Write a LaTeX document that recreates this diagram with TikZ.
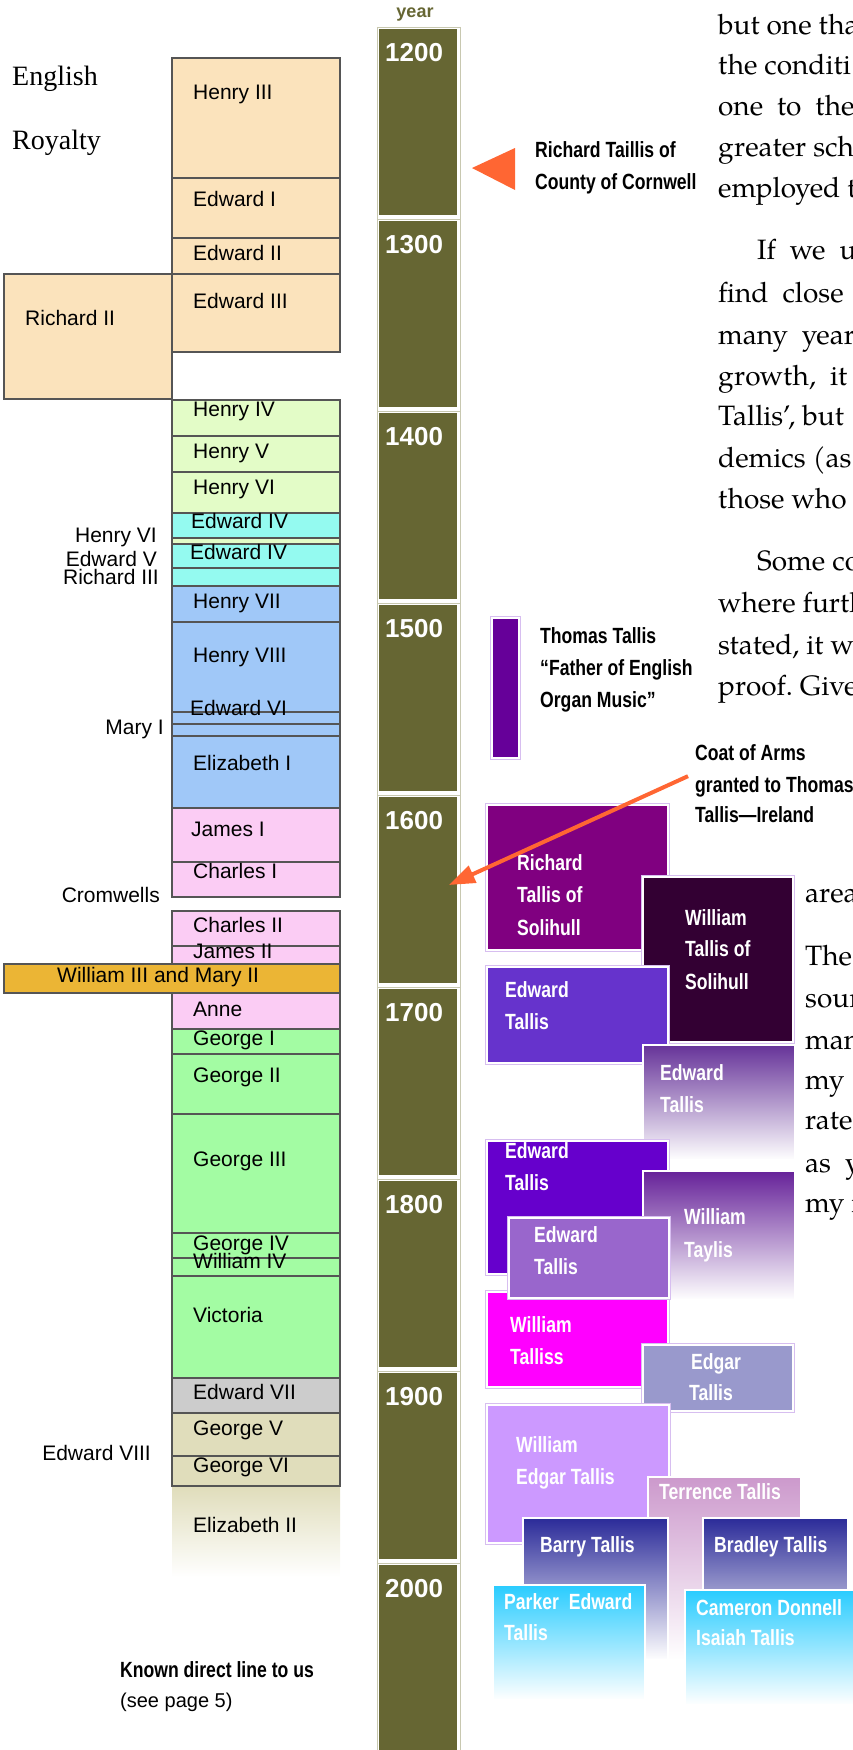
\documentclass[tikz,border=0pt]{standalone}
\usepackage{fontspec}
\usepackage{xcolor}
\usepackage{tikz}
\usetikzlibrary{arrows.meta,positioning,calc}

\setmainfont{Liberation Serif}
\newfontfamily\arialfam{Liberation Sans}
\newfontfamily\condfam[FakeStretch=0.8]{Liberation Sans}
\newfontfamily\bookfam{texgyrepagella-regular.otf}

\newcommand\royalfont{\arialfam\fontsize{21}{24}\selectfont}
\newcommand\yearfont{\arialfam\bfseries\fontsize{26}{30}\selectfont}
\newcommand\yearhead{\arialfam\bfseries\fontsize{18}{20}\selectfont}
\newcommand\kinfont{\condfam\bfseries\fontsize{22}{26}\selectfont}
\newcommand\pagefont{\arialfam\fontsize{20}{24}\selectfont}
\newcommand\bookfont{\bookfam\fontsize{28}{40}\selectfont}
\newcommand\titlefont{\fontsize{28}{32}\selectfont}

\definecolor{yearolive}{RGB}{102,102,51}
\definecolor{yearedge}{RGB}{200,200,176}
\definecolor{reignline}{RGB}{85,85,85}
\definecolor{plantagenet}{RGB}{251,227,188}
\definecolor{lancaster}{RGB}{227,252,199}
\definecolor{york}{RGB}{148,250,240}
\definecolor{tudor}{RGB}{160,200,248}
\definecolor{stuart}{RGB}{251,204,244}
\definecolor{orangewm}{RGB}{235,181,53}
\definecolor{hanover}{RGB}{163,252,163}
\definecolor{saxe}{RGB}{204,204,204}
\definecolor{windsor}{RGB}{224,221,187}
\definecolor{pointer}{RGB}{255,102,51}
\definecolor{kinedge}{RGB}{215,190,240}
\definecolor{thomascol}{RGB}{102,0,153}
\definecolor{solihullr}{RGB}{128,0,128}
\definecolor{solihullw}{RGB}{51,0,51}
\definecolor{edwarda}{RGB}{102,51,204}
\definecolor{edwardb}{RGB}{102,51,153}
\definecolor{edwardc}{RGB}{102,0,204}
\definecolor{taylis}{RGB}{102,34,153}
\definecolor{edwardd}{RGB}{153,102,204}
\definecolor{talliss}{RGB}{255,0,255}
\definecolor{edgarcol}{RGB}{153,153,204}
\definecolor{wedgar}{RGB}{204,153,255}
\definecolor{terrence}{RGB}{204,153,204}
\definecolor{navy}{RGB}{43,43,153}
\definecolor{skyc}{RGB}{41,204,255}

\tikzset{
    reign/.style={draw=reignline, line width=1.2pt},
    rname/.style={anchor=mid west, font=\royalfont, inner sep=0pt},
    rside/.style={anchor=mid east, font=\royalfont, inner sep=0pt},
    yearlbl/.style={anchor=mid west, font=\yearfont, text=white, inner sep=0pt},
    kinbox/.style={fill=#1, draw=white, line width=1.5pt, preaction={draw=kinedge, line width=3.5pt}},
    fadebox/.style={top color=#1, bottom color=white, draw=white, line width=1.5pt},
    kname/.style={anchor=mid west, font=\kinfont, text=white, inner sep=0pt},
    note/.style={anchor=mid west, font=\kinfont, inner sep=0pt},
    book/.style={anchor=mid west, font=\bookfont, inner sep=0pt},
    title/.style={anchor=mid west, font=\titlefont, inner sep=0pt}
}

\begin{document}
\begin{tikzpicture}[x=1pt,y=-1pt]
    \useasboundingbox (0,0) rectangle (852,1750);

    % year column
    \draw[yearedge, line width=0.8pt] (377,27) -- (377,1760) (460,27) -- (460,1760);
    \foreach \yr [count=\i from 0] in {1200,1300,...,2000} {
        \pgfmathsetmacro\ytop{29+192*\i}
        \draw[yearedge, line width=0.8pt] (377,{\ytop-2}) -- (460,{\ytop-2});
        \fill[yearolive] (379,\ytop) rectangle (457,{\ytop+186});
        \node[yearlbl] (y\yr) at (385,{\ytop+30}) {\yr};
    }
    \node[font=\yearhead, text=yearolive, inner sep=0pt] (yr) at (415,15) {year};

    % royalty
    \node[title] (eng) at (12,83) {English};
    \node[title] (roy) at (12,147) {Royalty};
    \draw[reign, fill=plantagenet] (172,58) rectangle (340,178); \node[rname] (h3) at (193,97) {Henry III};
    \draw[reign, fill=plantagenet] (172,178) rectangle (340,238); \node[rname] (e1) at (193,204) {Edward I};
    \draw[reign, fill=plantagenet] (172,238) rectangle (340,274); \node[rname] (e2) at (193,258) {Edward II};
    \draw[reign, fill=plantagenet] (172,274) rectangle (340,352); \node[rname] (e3) at (193,306) {Edward III};
    \draw[reign, fill=plantagenet] (4,274) rectangle (172,399); \node[rname] (r2) at (25,323) {Richard II};
    \draw[reign, fill=lancaster] (172,400) rectangle (340,436); \node[rname] (h4) at (193,414) {Henry IV};
    \draw[reign, fill=lancaster] (172,436) rectangle (340,472); \node[rname] (h5) at (193,456) {Henry V};
    \draw[reign, fill=lancaster] (172,472) rectangle (340,513); \node[rname] (h6) at (193,492) {Henry VI};
    \draw[reign, fill=york] (172,513) rectangle (340,538); \node[rname] (e4) at (191,526) {Edward IV};
    \draw[reign, fill=lancaster] (172,538) rectangle (340,544);
    \draw[reign, fill=york] (172,544) rectangle (340,568); \node[rname] (e4b) at (190,557) {Edward IV};
    \draw[reign, fill=york] (172,568) rectangle (340,586);
    \draw[reign, fill=tudor] (172,586) rectangle (340,622); \node[rname] (h7) at (193,606) {Henry VII};
    \draw[reign, fill=tudor] (172,622) rectangle (340,712); \node[rname] (h8) at (193,660) {Henry VIII};
    \draw[reign, fill=tudor] (172,712) rectangle (340,724); \node[rname] (e6) at (190,713) {Edward VI};
    \draw[reign, fill=tudor] (172,724) rectangle (340,736);
    \draw[reign, fill=tudor] (172,736) rectangle (340,808); \node[rname] (el1) at (193,768) {Elizabeth I};
    \draw[reign, fill=stuart] (172,808) rectangle (340,862); \node[rname] (j1) at (191,834) {James I};
    \draw[reign, fill=stuart] (172,862) rectangle (340,897); \node[rname] (c1) at (193,876) {Charles I};
    \draw[reign, fill=stuart] (172,911) rectangle (340,946); \node[rname] (c2) at (193,930) {Charles II};
    \draw[reign, fill=stuart] (172,946) rectangle (340,964); \node[rname] (j2) at (193,956) {James II};
    \draw[reign, fill=orangewm] (4,964) rectangle (340,993); \node[rname] (wm) at (57,980) {William III and Mary II};
    \draw[reign, fill=stuart] (172,993) rectangle (340,1029); \node[rname] (an) at (193,1014) {Anne};
    \draw[reign, fill=hanover] (172,1029) rectangle (340,1054); \node[rname] (g1) at (193,1043) {George I};
    \draw[reign, fill=hanover] (172,1054) rectangle (340,1114); \node[rname] (g2) at (193,1080) {George II};
    \draw[reign, fill=hanover] (172,1114) rectangle (340,1233); \node[rname] (g3) at (193,1164) {George III};
    \draw[reign, fill=hanover] (172,1233) rectangle (340,1258); \node[rname] (g4) at (193,1248) {George IV};
    \draw[reign, fill=hanover] (172,1258) rectangle (340,1276); \node[rname] (w4) at (193,1266) {William IV};
    \draw[reign, fill=hanover] (172,1276) rectangle (340,1378); \node[rname] (vi) at (193,1320) {Victoria};
    \draw[reign, fill=saxe] (172,1378) rectangle (340,1413); \node[rname] (e7) at (193,1397) {Edward VII};
    \draw[reign, fill=windsor] (172,1413) rectangle (340,1456); \node[rname] (g5) at (193,1433) {George V};
    \draw[reign, fill=windsor] (172,1456) rectangle (340,1486); \node[rname] (g6) at (193,1470) {George VI};
    \shade[top color=windsor, bottom color=white] (172,1487) rectangle (340,1577); \node[rname] (el2) at (193,1530) {Elizabeth II};

    % short reigns named at the side
    \node[rside] (sh6) at (157,540) {Henry VI};
    \node[rside] (se5) at (157,564) {Edward V};
    \node[rside] (sr3) at (159,582) {Richard III};
    \node[rside] (sm1) at (164,732) {Mary I};
    \node[rside] (scr) at (160,900) {Cromwells};
    \node[rside] (se8) at (151,1458) {Edward VIII};
    \node[note] (known) at (120,1675) {Known direct line to us};
    \node[anchor=mid west, font=\pagefont, inner sep=0pt] (page) at (120,1705) {(see page 5)};

    % Tallis line
    \fill[pointer] (472,168) -- (515,148) -- (515,190) -- cycle;
    \node[note] (rt1) at (535,155) {Richard Taillis of};
    \node[note] (rt2) at (535,187) {County of Cornwell};

    \draw[kinbox=thomascol] (492,618) rectangle (519,758);
    \node[note] (tt1) at (540,641) {Thomas Tallis};
    \node[note] (tt2) at (540,673) {“Father of English};
    \node[note] (tt3) at (540,705) {Organ Music”};

    \node[note] (coata) at (695,758) {Coat of Arms};
    \node[note] (coatb) at (695,790) {granted to Thomas};
    \node[note] (coatc) at (695,820) {Tallis—Ireland};

    \draw[kinbox=solihullr] (487,805) rectangle (668,950);
    \node[kname] (rs1) at (517,868) {Richard}; \node[kname] (rs2) at (517,900) {Tallis of}; \node[kname] (rs3) at (517,933) {Solihull};
    \draw[kinbox=solihullw] (643,877) rectangle (793,1042);
    \node[kname] (ws1) at (685,923) {William}; \node[kname] (ws2) at (685,954) {Tallis of}; \node[kname] (ws3) at (685,987) {Solihull};
    \draw[kinbox=edwarda] (487,967) rectangle (668,1063);
    \node[kname] (ea1) at (505,995) {Edward}; \node[kname] (ea2) at (505,1027) {Tallis};
    \draw[fadebox=edwardb] (643,1045) rectangle (795,1160);
    \node[kname] (eb1) at (660,1078) {Edward}; \node[kname] (eb2) at (660,1110) {Tallis};
    \draw[kinbox=edwardc] (487,1141) rectangle (668,1274);
    \node[kname] (ec1) at (505,1156) {Edward}; \node[kname] (ec2) at (505,1188) {Tallis};
    \draw[fadebox=taylis] (643,1171) rectangle (795,1300);
    \node[kname] (wt1) at (684,1222) {William}; \node[kname] (wt2) at (684,1255) {Taylis};
    \draw[kinbox=talliss] (487,1292) rectangle (668,1387);
    \node[kname] (wl1) at (510,1330) {William}; \node[kname] (wl2) at (510,1362) {Talliss};
    \draw[kinbox=edwardd] (509,1218) rectangle (669,1298);
    \node[kname] (ed1) at (534,1240) {Edward}; \node[kname] (ed2) at (534,1272) {Tallis};
    \draw[kinbox=edgarcol] (643,1345) rectangle (793,1411);
    \node[kname] (eg1) at (691,1367) {Edgar}; \node[kname] (eg2) at (689,1398) {Tallis};
    \draw[kinbox=wedgar] (487,1405) rectangle (669,1543);
    \node[kname] (we1) at (516,1450) {William}; \node[kname] (we2) at (516,1482) {Edgar Tallis};
    \draw[fadebox=terrence] (648,1477) rectangle (801,1660);
    \node[kname] (te) at (659,1497) {Terrence Tallis};
    \draw[fadebox=navy] (523,1518) rectangle (668,1660);
    \node[kname] (ba) at (540,1550) {Barry Tallis};
    \draw[top color=navy, bottom color=edgarcol, draw=white, line width=1.5pt] (703,1518) rectangle (848,1590);
    \node[kname] (br) at (714,1550) {Bradley Tallis};
    \draw[fadebox=skyc] (493,1585) rectangle (645,1700);
    \node[kname] (pa1) at (504,1607) {Parker\ \ Edward}; \node[kname] (pa2) at (504,1638) {Tallis};
    \draw[fadebox=skyc] (685,1590) rectangle (870,1705);
    \node[kname] (ca1) at (696,1613) {Cameron Donnell}; \node[kname] (ca2) at (696,1643) {Isaiah Tallis};

    % coat of arms pointer
    \coordinate (armsend) at (449,885);
    \draw[pointer, line width=4pt, -{Triangle[length=26pt,width=18pt]}] ([xshift=-7pt]coatb.north west) -- (armsend);

    % running text of the page
    \node[book] (bt1) at (718,32) {but one tha};
    \node[book] (bt2) at (718,72) {the conditi};
    \node[book] (bt3) at (718,113) {one\ \ to\ \ the};
    \node[book] (bt4) at (718,154) {greater sch};
    \node[book] (bt5) at (718,195) {employed t};
    \node[book] (bt6) at (757,257) {If\ \ we\ \ us};
    \node[book] (bt7) at (718,300) {find\ \ close\ \ t};
    \node[book] (bt8) at (718,342) {many\ \ year};
    \node[book] (bt9) at (718,383) {growth,\ \ it};
    \node[book] (bt10) at (718,423) {Tallis’,\ but};
    \node[book] (bt11) at (718,465) {demics\ (as};
    \node[book] (bt12) at (718,506) {those who a};
    \node[book] (bt13) at (757,568) {Some co};
    \node[book] (bt14) at (718,610) {where furth};
    \node[book] (bt15) at (718,652) {stated, it wi};
    \node[book] (bt16) at (718,693) {proof.\ Give};
    \node[book] (bt17) at (805,900) {area};
    \node[book] (bt18) at (805,963) {The};
    \node[book] (bt19) at (805,1005) {sour};
    \node[book] (bt20) at (805,1047) {man};
    \node[book] (bt21) at (805,1087) {my};
    \node[book] (bt22) at (805,1127) {rate};
    \node[book] (bt23) at (805,1170) {as\ \ y};
    \node[book] (bt24) at (805,1210) {my\ r};
\end{tikzpicture}
\end{document}
